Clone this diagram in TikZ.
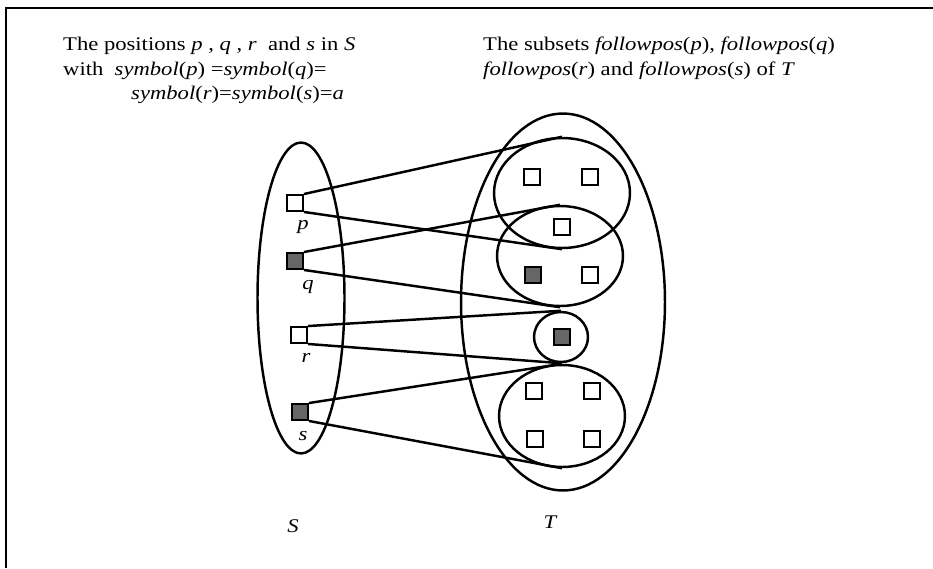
\documentclass[tikz,border=0pt]{standalone}
\usepackage{fontspec}
\setmainfont{Liberation Serif}[FakeStretch=1.17]
\usetikzlibrary{shapes.geometric}
\begin{document}
\begin{tikzpicture}[x=0.02cm,y=-0.02cm,line width=1.4pt,
  setshape/.style={draw,ellipse,inner sep=0pt},
  posbox/.style={draw,rectangle,inner sep=0pt,minimum size=0.32cm,line width=1.1pt},
  hollow/.style={posbox,fill=white},
  full/.style={posbox,fill=black!60},
  lbl/.style={font=\fontsize{11}{13}\selectfont\itshape,inner sep=0pt},
  txt/.style={font=\fontsize{11}{13}\selectfont,anchor=base west,inner sep=0pt},
  conn/.style={line width=1.4pt}]
\useasboundingbox (0,0) rectangle (933,568);
\draw[line width=1.4pt] (933,8) -- (6,8) -- (6,568);
% texts
\node[txt] (t1) at (62,51) {The positions \textit{p} , \textit{q} , \textit{r}\ \ and \textit{s} in \textit{S}};
\node[txt] (t2) at (62,75) {with\ \ \textit{symbol}(\textit{p}) =\textit{symbol}(\textit{q})=};
\node[txt] (t3) at (130,99) {\textit{symbol}(\textit{r})=\textit{symbol}(\textit{s})=\textit{a}};
\node[txt] (t4) at (482,51) {The subsets \textit{followpos}(\textit{p}), \textit{followpos}(\textit{q})};
\node[txt] (t5) at (482,75) {\textit{followpos}(\textit{r}) and \textit{followpos}(\textit{s}) of \textit{T}};
% big sets
\node[setshape,minimum width=1.74cm,minimum height=6.22cm] (S) at (301,298) {};
\node[setshape,minimum width=4.08cm,minimum height=7.54cm] (T) at (563,302) {};
% subsets
\node[setshape,minimum width=2.72cm,minimum height=2.2cm] (A) at (562,193) {};
\node[setshape,minimum width=2.52cm,minimum height=2.0cm] (B) at (560,256) {};
\node[setshape,minimum width=1.08cm,minimum height=1.0cm] (C) at (561,337) {};
\node[setshape,minimum width=2.52cm,minimum height=2.04cm] (D) at (562,416) {};
% squares in T
\node[hollow] (a1) at (532,177) {};
\node[hollow] (a2) at (590,177) {};
\node[hollow] (b1) at (562,227) {};
\node[full] (b2) at (533,275) {};
\node[hollow] (b3) at (590,275) {};
\node[full] (c1) at (562,337) {};
\node[hollow] (d1) at (534,391) {};
\node[hollow] (d2) at (592,391) {};
\node[hollow] (d3) at (535,439) {};
\node[hollow] (d4) at (592,439) {};
% positions in S
\node[hollow] (p) at (295,203) {};
\node[full] (q) at (295,261) {};
\node[hollow] (r) at (299,335) {};
\node[full] (s) at (300,412) {};
\node[lbl] (lp) at (303,227) {p};
\node[lbl] (lq) at (308,287) {q};
\node[lbl] (lr) at (306,358) {r};
\node[lbl] (ls) at (303,436) {s};
% connectors
\draw[conn] (p.north east) -- (A.north);
\draw[conn] (p.south east) -- (A.south);
\draw[conn] (q.north east) -- (B.north);
\draw[conn] (q.south east) -- (B.south);
\draw[conn] (r.north east) -- (C.north);
\draw[conn] (r.south east) -- (C.south);
\draw[conn] (s.north east) -- (D.north);
\draw[conn] (s.south east) -- (D.south);
% labels of sets
\node[lbl] (lS) at (293,526) {S};
\node[lbl] (lT) at (550,522) {T};
\end{tikzpicture}
\end{document}
